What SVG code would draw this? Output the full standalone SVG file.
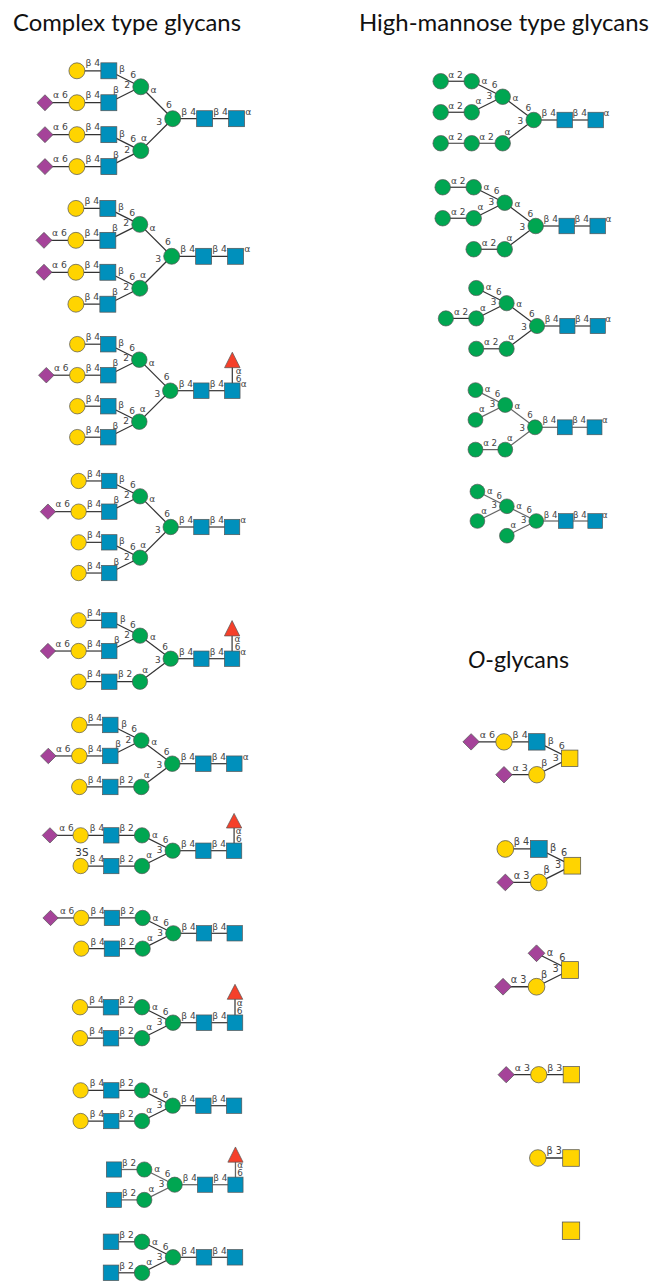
<svg xmlns="http://www.w3.org/2000/svg" width="649" height="1281" viewBox="0 0 649 1281">
<style>
text{font-family:"DejaVu Sans",sans-serif}
.t{font-family:Lato,"Liberation Sans",sans-serif;font-size:22.5px;fill:#111}
.l{font-size:9px;fill:#444;text-anchor:middle}
.s{font-size:10.5px;fill:#333;text-anchor:middle}
path{fill:none;stroke:#333;stroke-width:1.2}
.soft path{stroke:#666;stroke-width:1.3}
.gal,.gn,.man,.neu,.fuc,.gnc{stroke:#555;stroke-width:.7}
.gal,.gnc{fill:#FFD400}.gn{fill:#0090BC}.man{fill:#00A651}.neu{fill:#A54399}.fuc{fill:#F5402A}
</style>
<g id="titles">
<text class="t" x="13" y="31" textLength="228" lengthAdjust="spacingAndGlyphs">Complex type glycans</text>
<text class="t" x="359" y="31" textLength="290" lengthAdjust="spacingAndGlyphs">High-mannose type glycans</text>
<text class="t" x="468" y="668" textLength="101" lengthAdjust="spacingAndGlyphs"><tspan font-style="italic">O</tspan>-glycans</text>
</g>
<g id="connectors">
<g transform="translate(172.7,118.7) scale(1.03)">
<path d="M0 0H31"/><path d="M31 0H62"/><path d="M-31-31L0 0"/><path d="M-31 31L0 0"/><path d="M-62-46.5L-31-31"/><path d="M-62-15.5L-31-31"/><path d="M-62 15.5L-31 31"/><path d="M-62 46.5L-31 31"/><path d="M-93-46.5H-62"/><path d="M-93-15.5H-62"/><path d="M-93 15.5H-62"/><path d="M-93 46.5H-62"/><path d="M-124-15.5H-93"/><path d="M-124 15.5H-93"/><path d="M-124 46.5H-93"/>
<text class="l" x="-77.5" y="-51">β 4</text><text class="l" x="-77.5" y="-20">β 4</text><text class="l" x="-77.5" y="11">β 4</text><text class="l" x="-77.5" y="42">β 4</text><text class="l" x="-109" y="-20">α 6</text><text class="l" x="-109" y="11">α 6</text><text class="l" x="-109" y="42">α 6</text>
<text class="l" x="-49.3" y="-45">β</text><text class="l" x="-38.3" y="-39.5">6</text><text class="l" x="-55" y="-24.5">β</text><text class="l" x="-44.3" y="-29.5">2</text><text class="l" x="-18.7" y="-25">α</text><text class="l" x="-3.7" y="-10.5">6</text><text class="l" x="-13" y="6">3</text><text class="l" x="-49.3" y="17.5">β</text><text class="l" x="-38.3" y="23">6</text><text class="l" x="-27.7" y="21.5">α</text><text class="l" x="-55" y="38">β</text><text class="l" x="-44.3" y="33">2</text><text class="l" x="15.5" y="-4">β 4</text><text class="l" x="46.5" y="-4">β 4</text><text class="l" x="73.3" y="-4">α</text>
</g>
<g transform="translate(171.7,256.3) scale(1.03)">
<path d="M0 0H31"/><path d="M31 0H62"/><path d="M-31-31L0 0"/><path d="M-31 31L0 0"/><path d="M-62-46.5L-31-31"/><path d="M-62-15.5L-31-31"/><path d="M-62 15.5L-31 31"/><path d="M-62 46.5L-31 31"/><path d="M-93-46.5H-62"/><path d="M-93-15.5H-62"/><path d="M-93 15.5H-62"/><path d="M-93 46.5H-62"/><path d="M-124-15.5H-93"/><path d="M-124 15.5H-93"/>
<text class="l" x="-77.5" y="-51">β 4</text><text class="l" x="-77.5" y="-20">β 4</text><text class="l" x="-77.5" y="11">β 4</text><text class="l" x="-77.5" y="42">β 4</text><text class="l" x="-109" y="-20">α 6</text><text class="l" x="-109" y="11">α 6</text>
<text class="l" x="-49.3" y="-45">β</text><text class="l" x="-38.3" y="-39.5">6</text><text class="l" x="-55" y="-24.5">β</text><text class="l" x="-44.3" y="-29.5">2</text><text class="l" x="-18.7" y="-25">α</text><text class="l" x="-3.7" y="-10.5">6</text><text class="l" x="-13" y="6">3</text><text class="l" x="-49.3" y="17.5">β</text><text class="l" x="-38.3" y="23">6</text><text class="l" x="-27.7" y="21.5">α</text><text class="l" x="-55" y="38">β</text><text class="l" x="-44.3" y="33">2</text><text class="l" x="15.5" y="-4">β 4</text><text class="l" x="46.5" y="-4">β 4</text><text class="l" x="73.3" y="-4">α</text>
</g>
<g transform="translate(170.3,390.7)">
<path d="M0 0H31"/><path d="M31 0H62"/><path d="M62 0V-25"/><path d="M-31-31L0 0"/><path d="M-31 31L0 0"/><path d="M-62-46.5L-31-31"/><path d="M-62-15.5L-31-31"/><path d="M-62 15.5L-31 31"/><path d="M-62 46.5L-31 31"/><path d="M-93-46.5H-62"/><path d="M-93-15.5H-62"/><path d="M-93 15.5H-62"/><path d="M-93 46.5H-62"/><path d="M-124-15.5H-93"/>
<text class="l" x="-77.5" y="-51">β 4</text><text class="l" x="-77.5" y="-20">β 4</text><text class="l" x="-77.5" y="11">β 4</text><text class="l" x="-77.5" y="42">β 4</text><text class="l" x="-109" y="-20">α 6</text>
<text class="l" x="-49.3" y="-45">β</text><text class="l" x="-38.3" y="-39.5">6</text><text class="l" x="-55" y="-24.5">β</text><text class="l" x="-44.3" y="-29.5">2</text><text class="l" x="-18.7" y="-25">α</text><text class="l" x="-3.7" y="-10.5">6</text><text class="l" x="-13" y="6">3</text><text class="l" x="-49.3" y="17.5">β</text><text class="l" x="-38.3" y="23">6</text><text class="l" x="-27.7" y="21.5">α</text><text class="l" x="-55" y="38">β</text><text class="l" x="-44.3" y="33">2</text><text class="l" x="15.5" y="-4">β 4</text><text class="l" x="46.5" y="-4">β 4</text><text class="l" x="73.3" y="-4">α</text><text class="l" x="68.3" y="-17">α</text><text class="l" x="68.3" y="-9">6</text>
</g>
<g transform="translate(170.7,527) scale(.99)">
<path d="M0 0H31"/><path d="M31 0H62"/><path d="M-31-31L0 0"/><path d="M-31 31L0 0"/><path d="M-62-46.5L-31-31"/><path d="M-62-15.5L-31-31"/><path d="M-62 15.5L-31 31"/><path d="M-62 46.5L-31 31"/><path d="M-93-46.5H-62"/><path d="M-93-15.5H-62"/><path d="M-93 15.5H-62"/><path d="M-93 46.5H-62"/><path d="M-124-15.5H-93"/>
<text class="l" x="-77.5" y="-51">β 4</text><text class="l" x="-77.5" y="-20">β 4</text><text class="l" x="-77.5" y="11">β 4</text><text class="l" x="-77.5" y="42">β 4</text><text class="l" x="-109" y="-20">α 6</text>
<text class="l" x="-49.3" y="-45">β</text><text class="l" x="-38.3" y="-39.5">6</text><text class="l" x="-55" y="-24.5">β</text><text class="l" x="-44.3" y="-29.5">2</text><text class="l" x="-18.7" y="-25">α</text><text class="l" x="-3.7" y="-10.5">6</text><text class="l" x="-13" y="6">3</text><text class="l" x="-49.3" y="17.5">β</text><text class="l" x="-38.3" y="23">6</text><text class="l" x="-27.7" y="21.5">α</text><text class="l" x="-55" y="38">β</text><text class="l" x="-44.3" y="33">2</text><text class="l" x="15.5" y="-4">β 4</text><text class="l" x="46.5" y="-4">β 4</text><text class="l" x="73.3" y="-4">α</text>
</g>
<g transform="translate(170.7,658.7) scale(.99)">
<path d="M0 0H31"/><path d="M31 0H62"/><path d="M62 0V-25"/><path d="M-31-23.25L0 0"/><path d="M-31 23.25L0 0"/><path d="M-62-38.75L-31-23.25"/><path d="M-62-7.75L-31-23.25"/><path d="M-93-38.75H-62"/><path d="M-93-7.75H-62"/><path d="M-93 23.25H-31"/><path d="M-124-7.75H-93"/>
<text class="l" x="-77.5" y="-43">β 4</text><text class="l" x="-77.5" y="-12">β 4</text><text class="l" x="-77.5" y="19">β 4</text><text class="l" x="-109" y="-12">α 6</text><text class="l" x="-46" y="19">β 2</text>
<text class="l" x="-48.3" y="-36.7">β</text><text class="l" x="-38.3" y="-31.3">6</text><text class="l" x="-54.3" y="-16.3">β</text><text class="l" x="-44" y="-20.7">2</text><text class="l" x="-18" y="-18.5">α</text><text class="l" x="-5.7" y="-9">6</text><text class="l" x="-13" y="4.5">3</text><text class="l" x="-25.7" y="14.3">α</text><text class="l" x="15.5" y="-4">β 4</text><text class="l" x="46.5" y="-4">β 4</text><text class="l" x="73.3" y="-4">α</text><text class="l" x="67.5" y="-16.7">α</text><text class="l" x="67.5" y="-8.7">6</text>
</g>
<g transform="translate(172.3,763.7)">
<path d="M0 0H31"/><path d="M31 0H62"/><path d="M-31-23.25L0 0"/><path d="M-31 23.25L0 0"/><path d="M-62-38.75L-31-23.25"/><path d="M-62-7.75L-31-23.25"/><path d="M-93-38.75H-62"/><path d="M-93-7.75H-62"/><path d="M-93 23.25H-31"/><path d="M-124-7.75H-93"/>
<text class="l" x="-77.5" y="-43">β 4</text><text class="l" x="-77.5" y="-12">β 4</text><text class="l" x="-77.5" y="19">β 4</text><text class="l" x="-109" y="-12">α 6</text><text class="l" x="-46" y="19">β 2</text>
<text class="l" x="-48.3" y="-36.7">β</text><text class="l" x="-38.3" y="-31.3">6</text><text class="l" x="-54.3" y="-16.3">β</text><text class="l" x="-44" y="-20.7">2</text><text class="l" x="-18" y="-18.5">α</text><text class="l" x="-5.7" y="-9">6</text><text class="l" x="-13" y="4.5">3</text><text class="l" x="-25.7" y="14.3">α</text><text class="l" x="15.5" y="-4">β 4</text><text class="l" x="46.5" y="-4">β 4</text><text class="l" x="73.3" y="-4">α</text>
</g>
<g transform="translate(172.7,850.7) scale(.99)">
<path d="M0 0H31"/><path d="M31 0H62"/><path d="M62 0V-25"/><path d="M-31-15.5L0 0"/><path d="M-31 15.5L0 0"/><path d="M-93-15.5H-31"/><path d="M-93 15.5H-31"/><path d="M-124-15.5H-93"/>
<text class="l" x="-107.3" y="-19.5">α 6</text><text class="l" x="-76.5" y="-19.5">β 4</text><text class="l" x="-46.5" y="-19.5">β 2</text><text class="l" x="-76.5" y="11.5">β 4</text><text class="l" x="-46.5" y="11.5">β 2</text><text class="l" x="-18" y="-12.7">α</text><text class="l" x="-7.3" y="-7.7">6</text><text class="l" x="-13.3" y="2.7">3</text><text class="l" x="-23.7" y="7.7">α</text><text class="l" x="15.5" y="-3.5">β 4</text><text class="l" x="46.5" y="-3.5">β 4</text><text class="l" x="66.7" y="-17">α</text><text class="l" x="66.7" y="-8.6">6</text><text class="s" x="-91.7" y="5.3">3S</text>
</g>
<g transform="translate(173.3,933.3) scale(.99)">
<path d="M0 0H31"/><path d="M31 0H62"/><path d="M-31-15.5L0 0"/><path d="M-31 15.5L0 0"/><path d="M-93-15.5H-31"/><path d="M-93 15.5H-31"/><path d="M-124-15.5H-93"/>
<text class="l" x="-107.3" y="-19.5">α 6</text><text class="l" x="-76.5" y="-19.5">β 4</text><text class="l" x="-46.5" y="-19.5">β 2</text><text class="l" x="-76.5" y="11.5">β 4</text><text class="l" x="-46.5" y="11.5">β 2</text><text class="l" x="-18" y="-12.7">α</text><text class="l" x="-7.3" y="-7.7">6</text><text class="l" x="-13.3" y="2.7">3</text><text class="l" x="-23.7" y="7.7">α</text><text class="l" x="15.5" y="-3.5">β 4</text><text class="l" x="46.5" y="-3.5">β 4</text>
</g>
<g transform="translate(173,1022.7)">
<path d="M0 0H31"/><path d="M31 0H62"/><path d="M62 0V-25"/><path d="M-31-15.5L0 0"/><path d="M-31 15.5L0 0"/><path d="M-93-15.5H-31"/><path d="M-93 15.5H-31"/>
<text class="l" x="-76.5" y="-19.5">β 4</text><text class="l" x="-46.5" y="-19.5">β 2</text><text class="l" x="-76.5" y="11.5">β 4</text><text class="l" x="-46.5" y="11.5">β 2</text><text class="l" x="-18" y="-12.7">α</text><text class="l" x="-7.3" y="-7.7">6</text><text class="l" x="-13.3" y="2.7">3</text><text class="l" x="-23.7" y="7.7">α</text><text class="l" x="15.5" y="-3.5">β 4</text><text class="l" x="46.5" y="-3.5">β 4</text><text class="l" x="66.7" y="-17">α</text><text class="l" x="66.7" y="-8.6">6</text>
</g>
<g transform="translate(172.7,1105.7) scale(.99)">
<path d="M0 0H31"/><path d="M31 0H62"/><path d="M-31-15.5L0 0"/><path d="M-31 15.5L0 0"/><path d="M-93-15.5H-31"/><path d="M-93 15.5H-31"/>
<text class="l" x="-76.5" y="-19.5">β 4</text><text class="l" x="-46.5" y="-19.5">β 2</text><text class="l" x="-76.5" y="11.5">β 4</text><text class="l" x="-46.5" y="11.5">β 2</text><text class="l" x="-18" y="-12.7">α</text><text class="l" x="-7.3" y="-7.7">6</text><text class="l" x="-13.3" y="2.7">3</text><text class="l" x="-23.7" y="7.7">α</text><text class="l" x="15.5" y="-3.5">β 4</text><text class="l" x="46.5" y="-3.5">β 4</text>
</g>
<g class="soft" transform="translate(174.7,1184.7) scale(.98)">
<path d="M0 0H31"/><path d="M31 0H62"/><path d="M62 0V-25"/><path d="M-31-15.5L0 0"/><path d="M-31 15.5L0 0"/><path d="M-62-15.5H-31"/><path d="M-62 15.5H-31"/>
<text class="l" x="-46.5" y="-19.5">β 2</text><text class="l" x="-46.5" y="11.5">β 2</text><text class="l" x="-18" y="-12.7">α</text><text class="l" x="-7.3" y="-7.7">6</text><text class="l" x="-13.3" y="2.7">3</text><text class="l" x="-23.7" y="7.7">α</text><text class="l" x="15.5" y="-3.5">β 4</text><text class="l" x="46.5" y="-3.5">β 4</text><text class="l" x="66.7" y="-17">α</text><text class="l" x="66.7" y="-8.6">6</text>
</g>
<g transform="translate(173,1257.3)">
<path d="M0 0H31"/><path d="M31 0H62"/><path d="M-31-15.5L0 0"/><path d="M-31 15.5L0 0"/><path d="M-62-15.5H-31"/><path d="M-62 15.5H-31"/>
<text class="l" x="-46.5" y="-19.5">β 2</text><text class="l" x="-46.5" y="11.5">β 2</text><text class="l" x="-18" y="-12.7">α</text><text class="l" x="-7.3" y="-7.7">6</text><text class="l" x="-13.3" y="2.7">3</text><text class="l" x="-23.7" y="7.7">α</text><text class="l" x="15.5" y="-3.5">β 4</text><text class="l" x="46.5" y="-3.5">β 4</text>
</g>
<g transform="translate(533.7,120)">
<path d="M0 0H31"/><path d="M31 0H62"/><path d="M-31-23.25L0 0"/><path d="M-31 23.25L0 0"/><path d="M-62-38.75L-31-23.25"/><path d="M-62-7.75L-31-23.25"/><path d="M-93-38.75H-62"/><path d="M-93-7.75H-62"/><path d="M-93 23.25H-31"/>
<text class="l" x="-78.2" y="-42.5">α 2</text><text class="l" x="-78.2" y="-11.5">α 2</text><text class="l" x="-78.2" y="19.5">α 2</text><text class="l" x="-47.2" y="19.5">α 2</text><text class="l" x="-49.3" y="-36.3">α</text><text class="l" x="-39" y="-32">6</text><text class="l" x="-55.3" y="-15.7">α</text><text class="l" x="-44.3" y="-21.3">3</text><text class="l" x="-18.3" y="-19">α</text><text class="l" x="-5.3" y="-9.3">6</text><text class="l" x="-13.3" y="4">3</text><text class="l" x="-26.3" y="14.7">α</text><text class="l" x="15" y="-4">β 4</text><text class="l" x="46" y="-4">β 4</text><text class="l" x="72.7" y="-4">α</text>
</g>
<g transform="translate(535.7,226)">
<path d="M0 0H31"/><path d="M31 0H62"/><path d="M-31-23.25L0 0"/><path d="M-31 23.25L0 0"/><path d="M-62-38.75L-31-23.25"/><path d="M-62-7.75L-31-23.25"/><path d="M-93-38.75H-62"/><path d="M-93-7.75H-62"/><path d="M-62 23.25H-31"/>
<text class="l" x="-77.5" y="-42.5">α 2</text><text class="l" x="-77.5" y="-11.5">α 2</text><text class="l" x="-46.8" y="19.5">α 2</text><text class="l" x="-49.3" y="-36.3">α</text><text class="l" x="-39" y="-32">6</text><text class="l" x="-55.3" y="-15.7">α</text><text class="l" x="-44.3" y="-21.3">3</text><text class="l" x="-18.3" y="-19">α</text><text class="l" x="-5.3" y="-9.3">6</text><text class="l" x="-13.3" y="4">3</text><text class="l" x="-26.3" y="14.7">α</text><text class="l" x="15" y="-4">β 4</text><text class="l" x="46" y="-4">β 4</text><text class="l" x="72.7" y="-4">α</text>
</g>
<g transform="translate(537,326) scale(.98)">
<path d="M0 0H31"/><path d="M31 0H62"/><path d="M-31-23.25L0 0"/><path d="M-31 23.25L0 0"/><path d="M-62-38.75L-31-23.25"/><path d="M-62-7.75L-31-23.25"/><path d="M-93-7.75H-62"/><path d="M-62 23.25H-31"/>
<text class="l" x="-77.5" y="-11.5">α 2</text><text class="l" x="-46.8" y="19.5">α 2</text><text class="l" x="-49.3" y="-36.3">α</text><text class="l" x="-39" y="-32">6</text><text class="l" x="-55.3" y="-15.7">α</text><text class="l" x="-44.3" y="-21.3">3</text><text class="l" x="-18.3" y="-19">α</text><text class="l" x="-5.3" y="-9.3">6</text><text class="l" x="-13.3" y="4">3</text><text class="l" x="-26.3" y="14.7">α</text><text class="l" x="15" y="-4">β 4</text><text class="l" x="46" y="-4">β 4</text><text class="l" x="72.7" y="-4">α</text>
</g>
<g class="soft" transform="translate(535,427.3) scale(.96)">
<path d="M0 0H31"/><path d="M31 0H62"/><path d="M-31-23.25L0 0"/><path d="M-31 23.25L0 0"/><path d="M-62-38.75L-31-23.25"/><path d="M-62-7.75L-31-23.25"/><path d="M-62 23.25H-31"/>
<text class="l" x="-46.8" y="19.5">α 2</text><text class="l" x="-49.3" y="-36.3">α</text><text class="l" x="-39" y="-32">6</text><text class="l" x="-55.3" y="-15.7">α</text><text class="l" x="-44.3" y="-21.3">3</text><text class="l" x="-18.3" y="-19">α</text><text class="l" x="-5.3" y="-9.3">6</text><text class="l" x="-13.3" y="4">3</text><text class="l" x="-26.3" y="14.7">α</text><text class="l" x="15" y="-4">β 4</text><text class="l" x="46" y="-4">β 4</text><text class="l" x="72.7" y="-4">α</text>
</g>
<g class="soft" transform="translate(536.3,521) scale(.95)">
<path d="M0 0H31"/><path d="M31 0H62"/><path d="M-31-15.5L0 0"/><path d="M-31 15.5L0 0"/><path d="M-62-31L-31-15.5"/><path d="M-62 0L-31-15.5"/>
<text class="l" x="-49" y="-28.6">α</text><text class="l" x="-39" y="-23.7">6</text><text class="l" x="-44.2" y="-13.5">3</text><text class="l" x="-55" y="-7.5">α</text><text class="l" x="-18.2" y="-13">α</text><text class="l" x="-7.4" y="-8">6</text><text class="l" x="-13.3" y="2.3">3</text><text class="l" x="-24.2" y="7.6">α</text><text class="l" x="15" y="-3.3">β 4</text><text class="l" x="45.8" y="-3.3">β 4</text><text class="l" x="72" y="-3.3">α</text>
</g>
<g transform="translate(569.7,758.3) scale(1.06)">
<path d="M-31-15.5L0 0"/><path d="M-31 15.5L0 0"/><path d="M-62-15.5H-31"/><path d="M-93-15.5H-62"/><path d="M-62 15.5H-31"/>
<text class="l" x="-77.7" y="-19">α 6</text><text class="l" x="-46.7" y="-19">β 4</text><text class="l" x="-17.9" y="-13.7">β</text><text class="l" x="-7.5" y="-8.6">6</text><text class="l" x="-13.2" y="2.4">3</text><text class="l" x="-23.9" y="6.8">β</text><text class="l" x="-46.7" y="12">α 3</text>
</g>
<g transform="translate(572.3,865.7) scale(1.08)">
<path d="M-31-15.5L0 0"/><path d="M-31 15.5L0 0"/><path d="M-62-15.5H-31"/><path d="M-62 15.5H-31"/>
<text class="l" x="-47" y="-19">β 4</text><text class="l" x="-17.9" y="-13.7">β</text><text class="l" x="-7.5" y="-8.6">6</text><text class="l" x="-13.2" y="2.4">3</text><text class="l" x="-23.9" y="6.8">β</text><text class="l" x="-47" y="12">α 3</text>
</g>
<g transform="translate(570,970) scale(1.08)">
<path d="M-31-15.5L0 0"/><path d="M-31 15.5L0 0"/><path d="M-62 15.5H-31"/>
<text class="l" x="-18.5" y="-13.4">α</text><text class="l" x="-7" y="-8.7">6</text><text class="l" x="-13.3" y="2">3</text><text class="l" x="-24" y="7.6">β</text><text class="l" x="-47.5" y="12">α 3</text>
</g>
<g transform="translate(571.3,1074.7) scale(1.05)">
<path d="M-31 0H0"/><path d="M-62 0H-31"/>
<text class="l" x="-46.7" y="-3.3">α 3</text><text class="l" x="-15.7" y="-3.3">β 3</text>
</g>
<g transform="translate(571,1158) scale(1.07)">
<path d="M-31 0H0"/>
<text class="l" x="-15.7" y="-3.9">β 3</text>
</g>
</g>
<g id="nodes">
<g id="complex-1" transform="translate(172.7,118.7) scale(1.03)">
<g id="c1-gal1"><circle class="gal" cx="-93" cy="-46.5" r="7.75"/></g><g id="c1-gal2"><circle class="gal" cx="-93" cy="-15.5" r="7.75"/></g><g id="c1-gal3"><circle class="gal" cx="-93" cy="15.5" r="7.75"/></g><g id="c1-gal4"><circle class="gal" cx="-93" cy="46.5" r="7.75"/></g>
<g id="c1-neu2"><polygon class="neu" points="-131.75,-15.5 -124,-23.25 -116.25,-15.5 -124,-7.75"/></g><g id="c1-neu3"><polygon class="neu" points="-131.75,15.5 -124,7.75 -116.25,15.5 -124,23.25"/></g><g id="c1-neu4"><polygon class="neu" points="-131.75,46.5 -124,38.75 -116.25,46.5 -124,54.25"/></g>
<g id="c1-gn1"><rect class="gn" x="-69.75" y="-54.25" width="15.5" height="15.5"/></g><g id="c1-gn2"><rect class="gn" x="-69.75" y="-23.25" width="15.5" height="15.5"/></g><g id="c1-gn3"><rect class="gn" x="-69.75" y="7.75" width="15.5" height="15.5"/></g><g id="c1-gn4"><rect class="gn" x="-69.75" y="38.75" width="15.5" height="15.5"/></g>
<g id="c1-man1"><circle class="man" cx="-31" cy="-31" r="7.75"/></g><g id="c1-man2"><circle class="man" cx="-31" cy="31" r="7.75"/></g><g id="c1-man3"><circle class="man" cx="0" cy="0" r="7.75"/></g>
<g id="c1-gn5"><rect class="gn" x="23.25" y="-7.75" width="15.5" height="15.5"/></g><g id="c1-gn6"><rect class="gn" x="54.25" y="-7.75" width="15.5" height="15.5"/></g>
</g>
<g id="complex-2" transform="translate(171.7,256.3) scale(1.03)">
<g id="c2-gal1"><circle class="gal" cx="-93" cy="-46.5" r="7.75"/></g><g id="c2-gal2"><circle class="gal" cx="-93" cy="-15.5" r="7.75"/></g><g id="c2-gal3"><circle class="gal" cx="-93" cy="15.5" r="7.75"/></g><g id="c2-gal4"><circle class="gal" cx="-93" cy="46.5" r="7.75"/></g>
<g id="c2-neu2"><polygon class="neu" points="-131.75,-15.5 -124,-23.25 -116.25,-15.5 -124,-7.75"/></g><g id="c2-neu3"><polygon class="neu" points="-131.75,15.5 -124,7.75 -116.25,15.5 -124,23.25"/></g>
<g id="c2-gn1"><rect class="gn" x="-69.75" y="-54.25" width="15.5" height="15.5"/></g><g id="c2-gn2"><rect class="gn" x="-69.75" y="-23.25" width="15.5" height="15.5"/></g><g id="c2-gn3"><rect class="gn" x="-69.75" y="7.75" width="15.5" height="15.5"/></g><g id="c2-gn4"><rect class="gn" x="-69.75" y="38.75" width="15.5" height="15.5"/></g>
<g id="c2-man1"><circle class="man" cx="-31" cy="-31" r="7.75"/></g><g id="c2-man2"><circle class="man" cx="-31" cy="31" r="7.75"/></g><g id="c2-man3"><circle class="man" cx="0" cy="0" r="7.75"/></g>
<g id="c2-gn5"><rect class="gn" x="23.25" y="-7.75" width="15.5" height="15.5"/></g><g id="c2-gn6"><rect class="gn" x="54.25" y="-7.75" width="15.5" height="15.5"/></g>
</g>
<g id="complex-3" transform="translate(170.3,390.7)">
<g id="c3-gal1"><circle class="gal" cx="-93" cy="-46.5" r="7.75"/></g><g id="c3-gal2"><circle class="gal" cx="-93" cy="-15.5" r="7.75"/></g><g id="c3-gal3"><circle class="gal" cx="-93" cy="15.5" r="7.75"/></g><g id="c3-gal4"><circle class="gal" cx="-93" cy="46.5" r="7.75"/></g>
<g id="c3-neu2"><polygon class="neu" points="-131.75,-15.5 -124,-23.25 -116.25,-15.5 -124,-7.75"/></g>
<g id="c3-gn1"><rect class="gn" x="-69.75" y="-54.25" width="15.5" height="15.5"/></g><g id="c3-gn2"><rect class="gn" x="-69.75" y="-23.25" width="15.5" height="15.5"/></g><g id="c3-gn3"><rect class="gn" x="-69.75" y="7.75" width="15.5" height="15.5"/></g><g id="c3-gn4"><rect class="gn" x="-69.75" y="38.75" width="15.5" height="15.5"/></g>
<g id="c3-man1"><circle class="man" cx="-31" cy="-31" r="7.75"/></g><g id="c3-man2"><circle class="man" cx="-31" cy="31" r="7.75"/></g><g id="c3-man3"><circle class="man" cx="0" cy="0" r="7.75"/></g>
<g id="c3-gn5"><rect class="gn" x="23.25" y="-7.75" width="15.5" height="15.5"/></g><g id="c3-gn6"><rect class="gn" x="54.25" y="-7.75" width="15.5" height="15.5"/></g>
<g id="c3-fuc"><polygon class="fuc" points="62,-38.5 54.25,-23 69.75,-23"/></g>
</g>
<g id="complex-4" transform="translate(170.7,527) scale(.99)">
<g id="c4-gal1"><circle class="gal" cx="-93" cy="-46.5" r="7.75"/></g><g id="c4-gal2"><circle class="gal" cx="-93" cy="-15.5" r="7.75"/></g><g id="c4-gal3"><circle class="gal" cx="-93" cy="15.5" r="7.75"/></g><g id="c4-gal4"><circle class="gal" cx="-93" cy="46.5" r="7.75"/></g>
<g id="c4-neu2"><polygon class="neu" points="-131.75,-15.5 -124,-23.25 -116.25,-15.5 -124,-7.75"/></g>
<g id="c4-gn1"><rect class="gn" x="-69.75" y="-54.25" width="15.5" height="15.5"/></g><g id="c4-gn2"><rect class="gn" x="-69.75" y="-23.25" width="15.5" height="15.5"/></g><g id="c4-gn3"><rect class="gn" x="-69.75" y="7.75" width="15.5" height="15.5"/></g><g id="c4-gn4"><rect class="gn" x="-69.75" y="38.75" width="15.5" height="15.5"/></g>
<g id="c4-man1"><circle class="man" cx="-31" cy="-31" r="7.75"/></g><g id="c4-man2"><circle class="man" cx="-31" cy="31" r="7.75"/></g><g id="c4-man3"><circle class="man" cx="0" cy="0" r="7.75"/></g>
<g id="c4-gn5"><rect class="gn" x="23.25" y="-7.75" width="15.5" height="15.5"/></g><g id="c4-gn6"><rect class="gn" x="54.25" y="-7.75" width="15.5" height="15.5"/></g>
</g>
<g id="complex-5" transform="translate(170.7,658.7) scale(.99)">
<g id="c5-gal1"><circle class="gal" cx="-93" cy="-38.75" r="7.75"/></g><g id="c5-gal2"><circle class="gal" cx="-93" cy="-7.75" r="7.75"/></g><g id="c5-gal3"><circle class="gal" cx="-93" cy="23.25" r="7.75"/></g>
<g id="c5-neu2"><polygon class="neu" points="-131.75,-7.75 -124,-15.5 -116.25,-7.75 -124,0"/></g>
<g id="c5-gn1"><rect class="gn" x="-69.75" y="-46.5" width="15.5" height="15.5"/></g><g id="c5-gn2"><rect class="gn" x="-69.75" y="-15.5" width="15.5" height="15.5"/></g><g id="c5-gn3"><rect class="gn" x="-69.75" y="15.5" width="15.5" height="15.5"/></g>
<g id="c5-man1"><circle class="man" cx="-31" cy="-23.25" r="7.75"/></g><g id="c5-man2"><circle class="man" cx="-31" cy="23.25" r="7.75"/></g><g id="c5-man3"><circle class="man" cx="0" cy="0" r="7.75"/></g>
<g id="c5-gn5"><rect class="gn" x="23.25" y="-7.75" width="15.5" height="15.5"/></g><g id="c5-gn6"><rect class="gn" x="54.25" y="-7.75" width="15.5" height="15.5"/></g>
<g id="c5-fuc"><polygon class="fuc" points="62,-38.5 54.25,-23 69.75,-23"/></g>
</g>
<g id="complex-6" transform="translate(172.3,763.7)">
<g id="c6-gal1"><circle class="gal" cx="-93" cy="-38.75" r="7.75"/></g><g id="c6-gal2"><circle class="gal" cx="-93" cy="-7.75" r="7.75"/></g><g id="c6-gal3"><circle class="gal" cx="-93" cy="23.25" r="7.75"/></g>
<g id="c6-neu2"><polygon class="neu" points="-131.75,-7.75 -124,-15.5 -116.25,-7.75 -124,0"/></g>
<g id="c6-gn1"><rect class="gn" x="-69.75" y="-46.5" width="15.5" height="15.5"/></g><g id="c6-gn2"><rect class="gn" x="-69.75" y="-15.5" width="15.5" height="15.5"/></g><g id="c6-gn3"><rect class="gn" x="-69.75" y="15.5" width="15.5" height="15.5"/></g>
<g id="c6-man1"><circle class="man" cx="-31" cy="-23.25" r="7.75"/></g><g id="c6-man2"><circle class="man" cx="-31" cy="23.25" r="7.75"/></g><g id="c6-man3"><circle class="man" cx="0" cy="0" r="7.75"/></g>
<g id="c6-gn5"><rect class="gn" x="23.25" y="-7.75" width="15.5" height="15.5"/></g><g id="c6-gn6"><rect class="gn" x="54.25" y="-7.75" width="15.5" height="15.5"/></g>
</g>
<g id="complex-7" transform="translate(172.7,850.7) scale(.99)">
<g id="c7-neu1"><polygon class="neu" points="-131.75,-15.5 -124,-23.25 -116.25,-15.5 -124,-7.75"/></g>
<g id="c7-gal1"><circle class="gal" cx="-93" cy="-15.5" r="7.75"/></g><g id="c7-gal2"><circle class="gal" cx="-93" cy="15.5" r="7.75"/></g>
<g id="c7-gn1"><rect class="gn" x="-69.75" y="-23.25" width="15.5" height="15.5"/></g><g id="c7-gn2"><rect class="gn" x="-69.75" y="7.75" width="15.5" height="15.5"/></g>
<g id="c7-man1"><circle class="man" cx="-31" cy="-15.5" r="7.75"/></g><g id="c7-man2"><circle class="man" cx="-31" cy="15.5" r="7.75"/></g><g id="c7-man3"><circle class="man" cx="0" cy="0" r="7.75"/></g>
<g id="c7-gn5"><rect class="gn" x="23.25" y="-7.75" width="15.5" height="15.5"/></g><g id="c7-gn6"><rect class="gn" x="54.25" y="-7.75" width="15.5" height="15.5"/></g>
<g id="c7-fuc"><polygon class="fuc" points="62,-37.7 54.25,-22.9 69.75,-22.9"/></g>
</g>
<g id="complex-8" transform="translate(173.3,933.3) scale(.99)">
<g id="c8-neu1"><polygon class="neu" points="-131.75,-15.5 -124,-23.25 -116.25,-15.5 -124,-7.75"/></g>
<g id="c8-gal1"><circle class="gal" cx="-93" cy="-15.5" r="7.75"/></g><g id="c8-gal2"><circle class="gal" cx="-93" cy="15.5" r="7.75"/></g>
<g id="c8-gn1"><rect class="gn" x="-69.75" y="-23.25" width="15.5" height="15.5"/></g><g id="c8-gn2"><rect class="gn" x="-69.75" y="7.75" width="15.5" height="15.5"/></g>
<g id="c8-man1"><circle class="man" cx="-31" cy="-15.5" r="7.75"/></g><g id="c8-man2"><circle class="man" cx="-31" cy="15.5" r="7.75"/></g><g id="c8-man3"><circle class="man" cx="0" cy="0" r="7.75"/></g>
<g id="c8-gn5"><rect class="gn" x="23.25" y="-7.75" width="15.5" height="15.5"/></g><g id="c8-gn6"><rect class="gn" x="54.25" y="-7.75" width="15.5" height="15.5"/></g>
</g>
<g id="complex-9" transform="translate(173,1022.7)">
<g id="c9-gal1"><circle class="gal" cx="-93" cy="-15.5" r="7.75"/></g><g id="c9-gal2"><circle class="gal" cx="-93" cy="15.5" r="7.75"/></g>
<g id="c9-gn1"><rect class="gn" x="-69.75" y="-23.25" width="15.5" height="15.5"/></g><g id="c9-gn2"><rect class="gn" x="-69.75" y="7.75" width="15.5" height="15.5"/></g>
<g id="c9-man1"><circle class="man" cx="-31" cy="-15.5" r="7.75"/></g><g id="c9-man2"><circle class="man" cx="-31" cy="15.5" r="7.75"/></g><g id="c9-man3"><circle class="man" cx="0" cy="0" r="7.75"/></g>
<g id="c9-gn5"><rect class="gn" x="23.25" y="-7.75" width="15.5" height="15.5"/></g><g id="c9-gn6"><rect class="gn" x="54.25" y="-7.75" width="15.5" height="15.5"/></g>
<g id="c9-fuc"><polygon class="fuc" points="62,-38.4 54.25,-23.4 69.75,-23.4"/></g>
</g>
<g id="complex-10" transform="translate(172.7,1105.7) scale(.99)">
<g id="c10-gal1"><circle class="gal" cx="-93" cy="-15.5" r="7.75"/></g><g id="c10-gal2"><circle class="gal" cx="-93" cy="15.5" r="7.75"/></g>
<g id="c10-gn1"><rect class="gn" x="-69.75" y="-23.25" width="15.5" height="15.5"/></g><g id="c10-gn2"><rect class="gn" x="-69.75" y="7.75" width="15.5" height="15.5"/></g>
<g id="c10-man1"><circle class="man" cx="-31" cy="-15.5" r="7.75"/></g><g id="c10-man2"><circle class="man" cx="-31" cy="15.5" r="7.75"/></g><g id="c10-man3"><circle class="man" cx="0" cy="0" r="7.75"/></g>
<g id="c10-gn5"><rect class="gn" x="23.25" y="-7.75" width="15.5" height="15.5"/></g><g id="c10-gn6"><rect class="gn" x="54.25" y="-7.75" width="15.5" height="15.5"/></g>
</g>
<g id="complex-11" transform="translate(174.7,1184.7) scale(.98)">
<g id="c11-gn1"><rect class="gn" x="-69.75" y="-23.25" width="15.5" height="15.5"/></g><g id="c11-gn2"><rect class="gn" x="-69.75" y="7.75" width="15.5" height="15.5"/></g>
<g id="c11-man1"><circle class="man" cx="-31" cy="-15.5" r="7.75"/></g><g id="c11-man2"><circle class="man" cx="-31" cy="15.5" r="7.75"/></g><g id="c11-man3"><circle class="man" cx="0" cy="0" r="7.75"/></g>
<g id="c11-gn5"><rect class="gn" x="23.25" y="-7.75" width="15.5" height="15.5"/></g><g id="c11-gn6"><rect class="gn" x="54.25" y="-7.75" width="15.5" height="15.5"/></g>
<g id="c11-fuc"><polygon class="fuc" points="62,-38.5 54.25,-23 69.75,-23"/></g>
</g>
<g id="complex-12" transform="translate(173,1257.3)">
<g id="c12-gn1"><rect class="gn" x="-69.75" y="-23.25" width="15.5" height="15.5"/></g><g id="c12-gn2"><rect class="gn" x="-69.75" y="7.75" width="15.5" height="15.5"/></g>
<g id="c12-man1"><circle class="man" cx="-31" cy="-15.5" r="7.75"/></g><g id="c12-man2"><circle class="man" cx="-31" cy="15.5" r="7.75"/></g><g id="c12-man3"><circle class="man" cx="0" cy="0" r="7.75"/></g>
<g id="c12-gn5"><rect class="gn" x="23.25" y="-7.75" width="15.5" height="15.5"/></g><g id="c12-gn6"><rect class="gn" x="54.25" y="-7.75" width="15.5" height="15.5"/></g>
</g>
<g id="mannose-1" transform="translate(533.7,120)">
<g id="m1-a"><circle class="man" cx="-93" cy="-38.75" r="7.75"/></g><g id="m1-b"><circle class="man" cx="-62" cy="-38.75" r="7.75"/></g><g id="m1-c"><circle class="man" cx="-93" cy="-7.75" r="7.75"/></g><g id="m1-d"><circle class="man" cx="-62" cy="-7.75" r="7.75"/></g><g id="m1-e"><circle class="man" cx="-93" cy="23.25" r="7.75"/></g><g id="m1-f"><circle class="man" cx="-62" cy="23.25" r="7.75"/></g><g id="m1-g"><circle class="man" cx="-31" cy="23.25" r="7.75"/></g><g id="m1-h"><circle class="man" cx="-31" cy="-23.25" r="7.75"/></g><g id="m1-i"><circle class="man" cx="0" cy="0" r="7.75"/></g>
<g id="m1-gn1"><rect class="gn" x="23.25" y="-7.75" width="15.5" height="15.5"/></g><g id="m1-gn2"><rect class="gn" x="54.25" y="-7.75" width="15.5" height="15.5"/></g>
</g>
<g id="mannose-2" transform="translate(535.7,226)">
<g id="m2-a"><circle class="man" cx="-93" cy="-38.75" r="7.75"/></g><g id="m2-b"><circle class="man" cx="-62" cy="-38.75" r="7.75"/></g><g id="m2-c"><circle class="man" cx="-93" cy="-7.75" r="7.75"/></g><g id="m2-d"><circle class="man" cx="-62" cy="-7.75" r="7.75"/></g><g id="m2-f"><circle class="man" cx="-62" cy="23.25" r="7.75"/></g><g id="m2-g"><circle class="man" cx="-31" cy="23.25" r="7.75"/></g><g id="m2-h"><circle class="man" cx="-31" cy="-23.25" r="7.75"/></g><g id="m2-i"><circle class="man" cx="0" cy="0" r="7.75"/></g>
<g id="m2-gn1"><rect class="gn" x="23.25" y="-7.75" width="15.5" height="15.5"/></g><g id="m2-gn2"><rect class="gn" x="54.25" y="-7.75" width="15.5" height="15.5"/></g>
</g>
<g id="mannose-3" transform="translate(537,326) scale(.98)">
<g id="m3-b"><circle class="man" cx="-62" cy="-38.75" r="7.75"/></g><g id="m3-c"><circle class="man" cx="-93" cy="-7.75" r="7.75"/></g><g id="m3-d"><circle class="man" cx="-62" cy="-7.75" r="7.75"/></g><g id="m3-f"><circle class="man" cx="-62" cy="23.25" r="7.75"/></g><g id="m3-g"><circle class="man" cx="-31" cy="23.25" r="7.75"/></g><g id="m3-h"><circle class="man" cx="-31" cy="-23.25" r="7.75"/></g><g id="m3-i"><circle class="man" cx="0" cy="0" r="7.75"/></g>
<g id="m3-gn1"><rect class="gn" x="23.25" y="-7.75" width="15.5" height="15.5"/></g><g id="m3-gn2"><rect class="gn" x="54.25" y="-7.75" width="15.5" height="15.5"/></g>
</g>
<g id="mannose-4" transform="translate(535,427.3) scale(.96)">
<g id="m4-b"><circle class="man" cx="-62" cy="-38.75" r="7.75"/></g><g id="m4-d"><circle class="man" cx="-62" cy="-7.75" r="7.75"/></g><g id="m4-f"><circle class="man" cx="-62" cy="23.25" r="7.75"/></g><g id="m4-g"><circle class="man" cx="-31" cy="23.25" r="7.75"/></g><g id="m4-h"><circle class="man" cx="-31" cy="-23.25" r="7.75"/></g><g id="m4-i"><circle class="man" cx="0" cy="0" r="7.75"/></g>
<g id="m4-gn1"><rect class="gn" x="23.25" y="-7.75" width="15.5" height="15.5"/></g><g id="m4-gn2"><rect class="gn" x="54.25" y="-7.75" width="15.5" height="15.5"/></g>
</g>
<g id="mannose-5" transform="translate(536.3,521) scale(.95)">
<g id="m5-b"><circle class="man" cx="-62" cy="-31" r="7.75"/></g><g id="m5-d"><circle class="man" cx="-62" cy="0" r="7.75"/></g><g id="m5-g"><circle class="man" cx="-31" cy="15.5" r="7.75"/></g><g id="m5-h"><circle class="man" cx="-31" cy="-15.5" r="7.75"/></g><g id="m5-i"><circle class="man" cx="0" cy="0" r="7.75"/></g>
<g id="m5-gn1"><rect class="gn" x="23.25" y="-7.75" width="15.5" height="15.5"/></g><g id="m5-gn2"><rect class="gn" x="54.25" y="-7.75" width="15.5" height="15.5"/></g>
</g>
<g id="oglycan-1" transform="translate(569.7,758.3) scale(1.06)">
<g id="o1-neu1"><polygon class="neu" points="-100.75,-15.5 -93,-23.25 -85.25,-15.5 -93,-7.75"/></g><g id="o1-gal1"><circle class="gal" cx="-62" cy="-15.5" r="7.75"/></g><g id="o1-gn"><rect class="gn" x="-38.75" y="-23.25" width="15.5" height="15.5"/></g><g id="o1-gnc"><rect class="gnc" x="-7.75" y="-7.75" width="15.5" height="15.5"/></g><g id="o1-gal2"><circle class="gal" cx="-31" cy="15.5" r="7.75"/></g><g id="o1-neu2"><polygon class="neu" points="-69.75,15.5 -62,7.75 -54.25,15.5 -62,23.25"/></g>
</g>
<g id="oglycan-2" transform="translate(572.3,865.7) scale(1.08)">
<g id="o2-gal1"><circle class="gal" cx="-62" cy="-15.5" r="7.75"/></g><g id="o2-gn"><rect class="gn" x="-38.75" y="-23.25" width="15.5" height="15.5"/></g><g id="o2-gnc"><rect class="gnc" x="-7.75" y="-7.75" width="15.5" height="15.5"/></g><g id="o2-gal2"><circle class="gal" cx="-31" cy="15.5" r="7.75"/></g><g id="o2-neu2"><polygon class="neu" points="-69.75,15.5 -62,7.75 -54.25,15.5 -62,23.25"/></g>
</g>
<g id="oglycan-3" transform="translate(570,970) scale(1.08)">
<g id="o3-neu1"><polygon class="neu" points="-38.75,-15.5 -31,-23.25 -23.25,-15.5 -31,-7.75"/></g><g id="o3-gnc"><rect class="gnc" x="-7.75" y="-7.75" width="15.5" height="15.5"/></g><g id="o3-gal"><circle class="gal" cx="-31" cy="15.5" r="7.75"/></g><g id="o3-neu2"><polygon class="neu" points="-69.75,15.5 -62,7.75 -54.25,15.5 -62,23.25"/></g>
</g>
<g id="oglycan-4" transform="translate(571.3,1074.7) scale(1.05)">
<g id="o4-neu"><polygon class="neu" points="-69.75,0 -62,-7.75 -54.25,0 -62,7.75"/></g><g id="o4-gal"><circle class="gal" cx="-31" cy="0" r="7.75"/></g><g id="o4-gnc"><rect class="gnc" x="-7.75" y="-7.75" width="15.5" height="15.5"/></g>
</g>
<g id="oglycan-5" transform="translate(571,1158) scale(1.07)">
<g id="o5-gal"><circle class="gal" cx="-31" cy="0" r="7.75"/></g><g id="o5-gnc"><rect class="gnc" x="-7.75" y="-7.75" width="15.5" height="15.5"/></g>
</g>
<g id="oglycan-6" transform="translate(571,1230.7) scale(1.12)">
<g id="o6-gnc"><rect class="gnc" x="-7.75" y="-7.75" width="15.5" height="15.5"/></g>
</g>
</g>
</svg>
